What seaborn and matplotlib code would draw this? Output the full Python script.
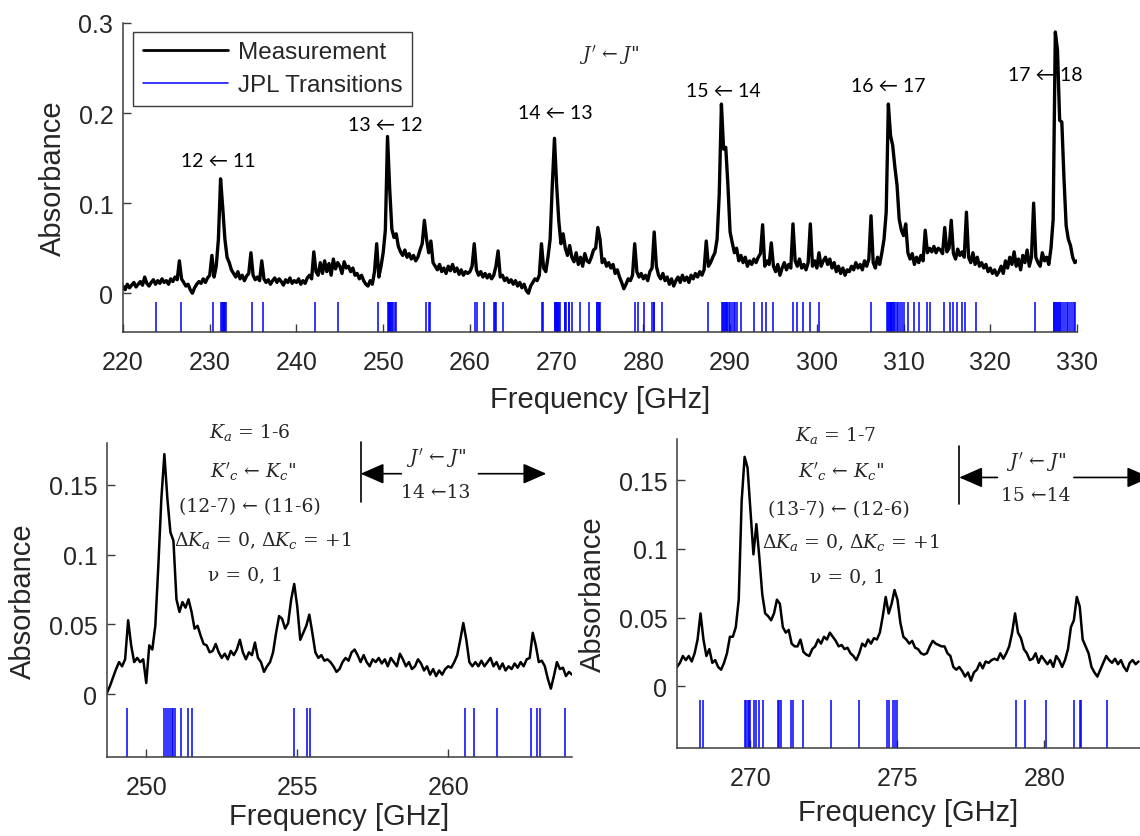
import numpy as np
import pandas as pd
import matplotlib
matplotlib.use("Agg")
import matplotlib.pyplot as plt
from matplotlib.lines import Line2D
from matplotlib.ticker import FuncFormatter
import seaborn as sns

# ---------------------------------------------------------------- data
# Survey scan, 220-330 GHz sampled every 0.25 GHz
survey_start_ghz = 220.0
survey_step_ghz = 0.25
survey_absorbance = [
    0.008, 0.004, 0.010, 0.006, 0.009, 0.012, 0.007, 0.010, 0.013, 0.009, 0.018, 0.011, 0.008, 0.012, 0.015, 0.010, 0.014, 0.011, 0.016, 0.012,
    0.014, 0.010, 0.016, 0.013, 0.018, 0.015, 0.036, 0.016, 0.012, 0.008, 0.010, 0.004, 0.000, 0.006, 0.010, 0.013, 0.011, 0.016, 0.012, 0.017,
    0.020, 0.042, 0.018, 0.030, 0.060, 0.127, 0.095, 0.060, 0.040, 0.034, 0.026, 0.022, 0.018, 0.024, 0.016, 0.020, 0.014, 0.019, 0.022, 0.045,
    0.020, 0.015, 0.018, 0.014, 0.036, 0.016, 0.012, 0.015, 0.010, 0.014, 0.017, 0.012, 0.016, 0.013, 0.009, 0.015, 0.012, 0.017, 0.011, 0.014,
    0.012, 0.016, 0.010, 0.014, 0.011, 0.017, 0.020, 0.016, 0.046, 0.024, 0.020, 0.034, 0.022, 0.036, 0.024, 0.033, 0.020, 0.038, 0.027, 0.034,
    0.030, 0.022, 0.035, 0.028, 0.030, 0.024, 0.028, 0.020, 0.022, 0.016, 0.020, 0.014, 0.010, 0.008, 0.014, 0.010, 0.024, 0.055, 0.018, 0.030,
    0.045, 0.070, 0.174, 0.116, 0.071, 0.062, 0.066, 0.052, 0.046, 0.042, 0.048, 0.040, 0.044, 0.038, 0.042, 0.036, 0.040, 0.048, 0.055, 0.081,
    0.060, 0.045, 0.058, 0.034, 0.030, 0.026, 0.032, 0.024, 0.028, 0.022, 0.030, 0.025, 0.032, 0.024, 0.028, 0.021, 0.026, 0.020, 0.024, 0.022,
    0.024, 0.030, 0.055, 0.026, 0.020, 0.024, 0.018, 0.022, 0.017, 0.021, 0.016, 0.020, 0.030, 0.047, 0.018, 0.020, 0.014, 0.017, 0.012, 0.015,
    0.010, 0.014, 0.008, 0.012, 0.006, 0.010, 0.003, 0.000, 0.008, 0.012, 0.016, 0.014, 0.020, 0.055, 0.028, 0.024, 0.040, 0.060, 0.120, 0.172,
    0.120, 0.080, 0.055, 0.066, 0.050, 0.042, 0.053, 0.040, 0.035, 0.045, 0.032, 0.040, 0.030, 0.044, 0.036, 0.034, 0.040, 0.048, 0.050, 0.073,
    0.060, 0.034, 0.038, 0.030, 0.034, 0.028, 0.032, 0.022, 0.026, 0.018, 0.012, 0.005, 0.010, 0.016, 0.014, 0.020, 0.055, 0.024, 0.018, 0.022,
    0.016, 0.020, 0.014, 0.024, 0.028, 0.068, 0.030, 0.020, 0.016, 0.022, 0.014, 0.018, 0.010, 0.016, 0.008, 0.014, 0.018, 0.012, 0.020, 0.014,
    0.018, 0.012, 0.020, 0.016, 0.022, 0.018, 0.024, 0.020, 0.026, 0.058, 0.030, 0.034, 0.040, 0.045, 0.060, 0.110, 0.210, 0.160, 0.162, 0.120,
    0.068, 0.056, 0.045, 0.050, 0.036, 0.042, 0.034, 0.040, 0.030, 0.036, 0.032, 0.038, 0.034, 0.040, 0.044, 0.076, 0.030, 0.036, 0.032, 0.056,
    0.030, 0.024, 0.032, 0.020, 0.028, 0.034, 0.026, 0.032, 0.028, 0.077, 0.036, 0.030, 0.038, 0.028, 0.032, 0.026, 0.034, 0.077, 0.030, 0.036,
    0.028, 0.045, 0.030, 0.036, 0.040, 0.032, 0.038, 0.028, 0.034, 0.024, 0.030, 0.022, 0.028, 0.020, 0.026, 0.024, 0.030, 0.026, 0.034, 0.028,
    0.032, 0.026, 0.036, 0.030, 0.038, 0.086, 0.034, 0.028, 0.040, 0.032, 0.045, 0.060, 0.090, 0.210, 0.175, 0.164, 0.140, 0.120, 0.082, 0.070,
    0.064, 0.077, 0.045, 0.038, 0.044, 0.032, 0.040, 0.034, 0.042, 0.036, 0.070, 0.045, 0.050, 0.046, 0.052, 0.045, 0.050, 0.048, 0.044, 0.073,
    0.046, 0.050, 0.081, 0.044, 0.038, 0.049, 0.042, 0.046, 0.040, 0.090, 0.040, 0.034, 0.045, 0.032, 0.040, 0.030, 0.034, 0.028, 0.032, 0.024,
    0.028, 0.022, 0.026, 0.020, 0.024, 0.030, 0.022, 0.036, 0.028, 0.040, 0.032, 0.046, 0.030, 0.038, 0.026, 0.042, 0.034, 0.048, 0.030, 0.040,
    0.100, 0.040, 0.034, 0.030, 0.045, 0.036, 0.040, 0.032, 0.050, 0.082, 0.290, 0.270, 0.192, 0.190, 0.127, 0.075, 0.060, 0.053, 0.040, 0.034,
    0.036,
]

# Detail scan around the 14 <- 13 band, 0.1 GHz steps
detail_a_start_ghz = 248.7
detail_a_step_ghz = 0.1
detail_a_absorbance = [
    0.001, 0.006, 0.012, 0.018, 0.023, 0.020, 0.025, 0.053, 0.035, 0.023,
    0.026, 0.023, 0.025, 0.008, 0.035, 0.032, 0.049, 0.092, 0.140, 0.172,
    0.140, 0.116, 0.110, 0.068, 0.059, 0.066, 0.062, 0.068, 0.059, 0.047,
    0.049, 0.042, 0.036, 0.035, 0.030, 0.031, 0.036, 0.030, 0.026, 0.029,
    0.025, 0.031, 0.028, 0.032, 0.039, 0.030, 0.025, 0.030, 0.028, 0.037,
    0.026, 0.023, 0.016, 0.020, 0.023, 0.030, 0.044, 0.056, 0.054, 0.047,
    0.051, 0.068, 0.079, 0.063, 0.039, 0.044, 0.049, 0.057, 0.044, 0.030,
    0.026, 0.028, 0.024, 0.025, 0.023, 0.020, 0.016, 0.018, 0.023, 0.026,
    0.024, 0.030, 0.032, 0.028, 0.023, 0.028, 0.023, 0.020, 0.025, 0.023,
    0.026, 0.022, 0.025, 0.020, 0.026, 0.023, 0.020, 0.029, 0.025, 0.020,
    0.023, 0.018, 0.020, 0.025, 0.022, 0.017, 0.020, 0.014, 0.018, 0.013,
    0.017, 0.014, 0.018, 0.020, 0.019, 0.023, 0.028, 0.039, 0.051, 0.039,
    0.023, 0.020, 0.023, 0.020, 0.024, 0.020, 0.023, 0.026, 0.020, 0.023,
    0.018, 0.022, 0.017, 0.020, 0.018, 0.022, 0.019, 0.023, 0.020, 0.025,
    0.026, 0.044, 0.035, 0.023, 0.024, 0.020, 0.011, 0.004, 0.013, 0.023,
    0.018, 0.019, 0.013, 0.016, 0.014,
]

# Detail scan around the 15 <- 14 band, 0.1 GHz steps
detail_b_start_ghz = 267.5
detail_b_step_ghz = 0.1
detail_b_absorbance = [
    0.014, 0.017, 0.022, 0.019, 0.022, 0.018, 0.024, 0.034, 0.053, 0.034,
    0.022, 0.027, 0.017, 0.019, 0.014, 0.012, 0.017, 0.024, 0.036, 0.036,
    0.043, 0.063, 0.135, 0.167, 0.159, 0.128, 0.096, 0.118, 0.094, 0.067,
    0.053, 0.051, 0.048, 0.053, 0.063, 0.060, 0.043, 0.039, 0.041, 0.031,
    0.029, 0.029, 0.034, 0.025, 0.023, 0.022, 0.027, 0.029, 0.034, 0.031,
    0.036, 0.034, 0.039, 0.036, 0.033, 0.029, 0.030, 0.027, 0.028, 0.024,
    0.022, 0.019, 0.024, 0.031, 0.029, 0.034, 0.031, 0.035, 0.034, 0.039,
    0.051, 0.065, 0.053, 0.060, 0.070, 0.063, 0.046, 0.036, 0.034, 0.031,
    0.033, 0.028, 0.027, 0.024, 0.023, 0.024, 0.029, 0.033, 0.031, 0.030,
    0.029, 0.029, 0.024, 0.022, 0.014, 0.012, 0.014, 0.011, 0.007, 0.010,
    0.004, 0.010, 0.012, 0.017, 0.013, 0.018, 0.017, 0.019, 0.020, 0.019,
    0.024, 0.020, 0.024, 0.029, 0.039, 0.053, 0.039, 0.035, 0.027, 0.024,
    0.019, 0.020, 0.024, 0.017, 0.022, 0.019, 0.016, 0.019, 0.014, 0.022,
    0.019, 0.014, 0.019, 0.027, 0.043, 0.048, 0.065, 0.058, 0.034, 0.029,
    0.024, 0.014, 0.010, 0.007, 0.012, 0.017, 0.022, 0.019, 0.017, 0.020,
    0.016, 0.019, 0.014, 0.011, 0.017, 0.019, 0.016, 0.018,
]

# JPL catalogue line positions (GHz)
jpl_lines_ghz = [
    223.8, 226.7, 230.4, 231.3, 231.4, 231.5, 231.6, 231.7, 231.8, 231.9,
    234.9, 236.1, 242.1, 244.8,
    249.36, 250.6, 250.66, 250.72, 250.78, 250.84, 250.9, 250.96, 251.14,
    251.39, 251.5, 254.88, 255.34, 255.42,
    260.54, 260.84, 261.6, 262.75, 262.95, 263.04, 263.86,
    268.28, 268.4, 269.8, 269.85, 269.9, 269.95, 270.0, 270.12, 270.2,
    270.3, 270.43, 270.92, 270.98, 271.04, 271.39, 271.45, 271.78, 272.74,
    273.7, 274.63, 274.7, 274.85, 274.9, 274.97,
    279.02, 279.33, 280.04, 281.02, 281.2, 281.25, 282.12,
    287.4, 289.1, 289.2, 289.3, 289.4, 289.5, 289.6, 289.7, 289.85, 290.0,
    290.2, 290.4, 290.6, 290.8, 291.3, 292.8, 293.7, 294.1, 294.9, 297.3,
    297.7, 298.4, 299.2, 300.2,
    306.3, 308.1, 308.2, 308.3, 308.4, 308.5, 308.6, 308.7, 308.8, 308.9,
    309.0, 309.2, 309.4, 309.6, 309.8, 310.0, 310.5, 311.2, 311.8, 312.7,
    313.1, 314.7, 315.3, 315.7, 316.2, 316.7, 317.1, 318.3,
    325.1, 327.3, 327.4, 327.5, 327.6, 327.7, 327.8, 327.9, 328.0, 328.2,
    328.4, 328.6, 328.8, 329.0, 329.2, 329.4, 329.6, 329.8,
]

survey_xticks = [220, 230, 240, 250, 260, 270, 280, 290, 300, 310, 320, 330]
survey_yticks = [0, 0.1, 0.2, 0.3]
detail_a_xticks = [250, 255, 260]
detail_b_xticks = [270, 275, 280]
detail_yticks = [0, 0.05, 0.1, 0.15]

band_labels = ["12 ← 11", "13 ← 12", "14 ← 13", "15 ← 14", "16 ← 17", "17 ← 18"]
band_label_x = [231.0, 250.2, 269.9, 289.2, 308.2, 326.4]
band_label_y = [0.147, 0.187, 0.201, 0.225, 0.231, 0.243]

detail_a_notes = [r"$K_a$ = 1-6", r"$K'_c$ ← $K_c$" + '"', "(12-7) ← (11-6)",
                  r"Δ$K_a$ = 0, Δ$K_c$ = +1", "ν = 0, 1"]
detail_b_notes = [r"$K_a$ = 1-7", r"$K'_c$ ← $K_c$" + '"', "(13-7) ← (12-6)",
                  r"Δ$K_a$ = 0, Δ$K_c$ = +1", "ν = 0, 1"]
detail_a_band = "14 ←13"
detail_b_band = "15 ←14"
j_label = r"$J'$ ← $J$" + '"'

# ---------------------------------------------------------------- style
sns.set_theme(style="ticks")
plt.rcParams["font.family"] = ["Liberation Sans", "DejaVu Sans"]
plt.rcParams["mathtext.fontset"] = "dejavuserif"

AXIS_GREY = "#3c3c3c"
TEXT_GREY = "#262626"
JPL_BLUE = "#0000ff"
SERIF = ["DejaVu Serif"]
NOTE_SIZE = 13.5


def spectrum_frame(start, step, values):
    freq = start + step * np.arange(len(values))
    return pd.DataFrame({"Frequency": freq, "Absorbance": values})


def style_axes(ax, xticks, yticks, xlim, ylim, xlabelpad=8):
    for side in ("top", "right"):
        ax.spines[side].set_visible(False)
    for side in ("left", "bottom"):
        ax.spines[side].set_color(AXIS_GREY)
        ax.spines[side].set_linewidth(1.1)
    ax.set_xlim(*xlim)
    ax.set_ylim(*ylim)
    ax.set_xticks(xticks)
    ax.set_yticks(yticks)
    ax.yaxis.set_major_formatter(FuncFormatter(lambda v, p: f"{v:g}"))
    ax.tick_params(direction="in", length=6, width=1.0, color=AXIS_GREY,
                   labelsize=18, labelcolor=TEXT_GREY)
    ax.tick_params(axis="x", pad=13)
    ax.tick_params(axis="y", pad=7)
    ax.set_xlabel("Frequency [GHz]", fontsize=21, color=TEXT_GREY,
                  labelpad=xlabelpad)
    ax.set_ylabel("Absorbance", fontsize=21, color=TEXT_GREY, labelpad=8)


def draw_panel(ax, frame, lw):
    ax.vlines(jpl_lines_ghz, -0.045, -0.010, colors=JPL_BLUE, linewidth=1.1)
    sns.lineplot(data=frame, x="Frequency", y="Absorbance", ax=ax,
                 color="black", linewidth=lw, estimator=None, sort=False,
                 legend=False)


def j_bracket(ax, x_bar, y_mid, y_lo, y_hi, x_left_tail, x_right_tail,
              x_right_tip, x_text, band_text):
    ax.plot([x_bar, x_bar], [y_lo, y_hi], color="black", lw=1.2, clip_on=False)
    head = dict(arrowstyle="-|>,head_length=0.8,head_width=0.35",
                color="black", lw=1.2, mutation_scale=18,
                shrinkA=0, shrinkB=0)
    ax.annotate("", xy=(x_bar, y_mid), xytext=(x_left_tail, y_mid),
                arrowprops=head, annotation_clip=False)
    ax.annotate("", xy=(x_right_tip, y_mid), xytext=(x_right_tail, y_mid),
                arrowprops=head, annotation_clip=False)
    ax.text(x_text, y_mid + 0.012, j_label, fontsize=NOTE_SIZE, family=SERIF,
            ha="center", va="center")
    ax.text(x_text, y_mid - 0.013, band_text, fontsize=NOTE_SIZE, family=SERIF,
            ha="center", va="center")


fig = plt.figure(figsize=(11.4, 8.37), dpi=100)
W, H = 1140.0, 837.0


def axes_px(left, top, right, bottom):
    return fig.add_axes([left / W, 1 - bottom / H, (right - left) / W,
                         (bottom - top) / H])


# ---------------------------------------------------------------- survey
ax_top = axes_px(123, 24, 1077, 333)
draw_panel(ax_top, spectrum_frame(survey_start_ghz, survey_step_ghz,
                                  survey_absorbance), 2.4)
style_axes(ax_top, survey_xticks, survey_yticks, (220, 330), (-0.043, 0.3))

for label, x, y in zip(band_labels, band_label_x, band_label_y):
    ax_top.text(x, y, label, fontsize=14, family=["Lato", "DejaVu Sans"],
                ha="center", va="center", color="black")
ax_top.text(276.0, 0.265, j_label, fontsize=NOTE_SIZE, family=SERIF,
            ha="center", va="center")

handles = [Line2D([], [], color="black", lw=2.0),
           Line2D([], [], color=JPL_BLUE, lw=1.1)]
leg = ax_top.legend(handles, ["Measurement", "JPL Transitions"],
                    loc="upper left", bbox_to_anchor=(0.011, 0.972),
                    fontsize=17.5, frameon=True, fancybox=False,
                    framealpha=1, edgecolor=AXIS_GREY, handlelength=3.5,
                    handletextpad=0.4, borderpad=0.4, labelspacing=0.45,
                    borderaxespad=0)
leg.get_frame().set_linewidth(1.0)
for t in leg.get_texts():
    t.set_color(TEXT_GREY)

# ---------------------------------------------------------------- detail A
ax_a = axes_px(107, 444, 572, 758)
draw_panel(ax_a, spectrum_frame(detail_a_start_ghz, detail_a_step_ghz,
                                detail_a_absorbance), 1.8)
style_axes(ax_a, detail_a_xticks, detail_yticks, (248.7, 264.1),
           (-0.045, 0.18), xlabelpad=2)
for note, x, y in zip(detail_a_notes, [253.43, 253.55, 253.43, 253.86, 253.3],
                      [0.188, 0.160, 0.135, 0.111, 0.086]):
    ax_a.text(x, y, note, fontsize=NOTE_SIZE, family=SERIF, ha="center",
              va="center")
j_bracket(ax_a, 257.1, 0.158, 0.138, 0.181, 258.45, 261.0, 263.25, 259.6,
          detail_a_band)

# ---------------------------------------------------------------- detail B
ax_b = axes_px(677, 440, 1140, 749)
draw_panel(ax_b, spectrum_frame(detail_b_start_ghz, detail_b_step_ghz,
                                detail_b_absorbance), 1.8)
style_axes(ax_b, detail_b_xticks, detail_yticks, (267.5, 283.25),
           (-0.045, 0.18), xlabelpad=6)
for note, x, y in zip(detail_b_notes, [272.9, 273.07, 273.0, 273.4, 273.3],
                      [0.183, 0.157, 0.129, 0.105, 0.080]):
    ax_b.text(x, y, note, fontsize=NOTE_SIZE, family=SERIF, ha="center",
              va="center")
j_bracket(ax_b, 277.1, 0.152, 0.1325, 0.175, 278.4, 281.0, 283.6, 279.7,
          detail_b_band)

fig.savefig("out.png", dpi=100)
